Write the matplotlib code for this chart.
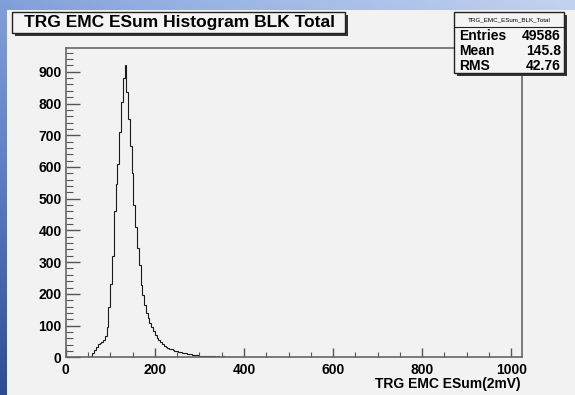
"""
ROOT style histogram: TRG EMC ESum Histogram BLK Total
"""
import numpy as np
import matplotlib.pyplot as plt
from matplotlib.colors import LinearSegmentedColormap
from matplotlib.patches import Rectangle
from matplotlib.ticker import MultipleLocator

# histogram: 4-unit bins starting at 40
bin_start = 40
bin_width = 4
counts = [
    0, 0, 0, 1, 4, 12, 22, 33, 41, 46,
    48, 53, 68, 95, 160, 230, 320, 460, 545, 610,
    710, 805, 880, 920, 835, 750, 665, 580, 480, 410,
    345, 290, 228, 195, 165, 140, 125, 108, 95, 82,
    70, 62, 54, 47, 41, 36, 33, 30, 27, 25,
    23, 21, 19, 17, 16, 14, 13, 12, 11, 10,
    9, 8, 7, 7, 6, 5, 5, 4, 4, 4,
    3, 4, 3, 3, 2, 3, 2, 2, 3, 2,
    1, 2, 1, 2, 1, 1, 2, 1, 1, 1,
    1, 1, 2, 1, 1, 1, 1, 0, 1, 1,
    0, 0, 0, 1, 0, 0, 0,
]
x_ticks = [0, 200, 400, 600, 800, 1000]
y_ticks = [0, 100, 200, 300, 400, 500, 600, 700, 800, 900]

title = "TRG EMC ESum Histogram BLK Total"
x_label = "TRG EMC ESum(2mV)"
stats_name = "TRG_EMC_ESum_BLK_Total"
stats_rows = [("Entries", "49586"), ("Mean", "145.8"), ("RMS", "42.76")]

W, H = 575, 395
plt.rcParams["font.family"] = ["Liberation Sans", "DejaVu Sans"]
fig = plt.figure(figsize=(W / 100, H / 100), dpi=100)


def fx(px):
    return px / W


def fy(py):
    return 1 - py / H


# blue desktop background, light at top right, dark at bottom left
bg = fig.add_axes([0, 0, 1, 1])
bg.set_axis_off()
gx = np.linspace(0, 1, 200)
gy = np.linspace(0, 1, 140)
grad = 0.45 * (1 - gx[None, :]) + 0.55 * gy[:, None]
bg_cmap = LinearSegmentedColormap.from_list(
    "bgblue", ["#c3d3f0", "#93afe2", "#5f82c8", "#2c4d94"])
bg.imshow(grad, cmap=bg_cmap, aspect="auto", extent=[0, 1, 0, 1], origin="upper")
bg.set_xlim(0, 1)
bg.set_ylim(0, 1)

# grey ROOT canvas
fig.patches.append(Rectangle((fx(7), 0), 1 - fx(7), fy(10), transform=fig.transFigure,
                             facecolor="#f2f2f2", edgecolor="none", zorder=1))

ax = fig.add_axes([fx(65.7), fy(357.3), fx(522) - fx(65.7), fy(48) - fy(357.3)])
ax.set_facecolor("#f2f2f2")
ax.set_zorder(2)

edges = bin_start + bin_width * np.arange(len(counts) + 1)
ax.stairs(counts, edges, color="#1a1a1a", linewidth=0.8)

ax.set_xlim(0, 1024)
ax.set_ylim(0, 975)
ax.set_xticks(x_ticks)
ax.set_yticks(y_ticks)
ax.xaxis.set_minor_locator(MultipleLocator(50))
ax.yaxis.set_minor_locator(MultipleLocator(20))
ax.tick_params(axis="y", which="major", direction="in", length=10, width=1,
               color="#555555", labelsize=10, pad=3)
ax.tick_params(axis="y", which="minor", direction="in", length=5, width=0.8,
               color="#555555")
ax.tick_params(axis="x", which="major", direction="in", length=6.5, width=1,
               color="#555555", labelsize=10, pad=4)
ax.tick_params(axis="x", which="minor", direction="in", length=3.3, width=0.8,
               color="#555555")
for lab in ax.get_xticklabels() + ax.get_yticklabels():
    lab.set_fontweight("bold")
for sp in ax.spines.values():
    sp.set_color("#666666")
    sp.set_linewidth(1.2)

fig.text(fx(521), fy(384), x_label, ha="right", va="center",
         fontsize=10, fontweight="bold", zorder=5)


def root_box(x0, y0, x1, y1):
    # shadow then box
    fig.patches.append(Rectangle((fx(x0 + 3), fy(y1 + 3)), fx(x1 - x0), fy(y0) - fy(y1),
                                 transform=fig.transFigure, facecolor="#333333",
                                 edgecolor="none", zorder=6))
    fig.patches.append(Rectangle((fx(x0), fy(y1)), fx(x1 - x0), fy(y0) - fy(y1),
                                 transform=fig.transFigure, facecolor="#f4f4f4",
                                 edgecolor="#222222", linewidth=1, zorder=7))


root_box(12, 12, 345, 33)
fig.text(fx(179), fy(23), title, ha="center", va="center", fontsize=12.5,
         fontweight="bold", zorder=8)

root_box(454, 12, 564, 73)
fig.text(fx(509), fy(19.5), stats_name, ha="center", va="center", fontsize=4.5, zorder=8)
fig.add_artist(plt.Line2D([fx(454), fx(564)], [fy(27), fy(27)], color="#222222",
                          linewidth=0.8, zorder=8))
for i, (name, val) in enumerate(stats_rows):
    yy = fy(35.5 + 15.5 * i)
    fig.text(fx(459), yy, name, ha="left", va="center", fontsize=10,
             fontweight="bold", zorder=8)
    fig.text(fx(561), yy, val, ha="right", va="center", fontsize=10,
             fontweight="bold", zorder=8)

fig.savefig("out.png", dpi=100)
